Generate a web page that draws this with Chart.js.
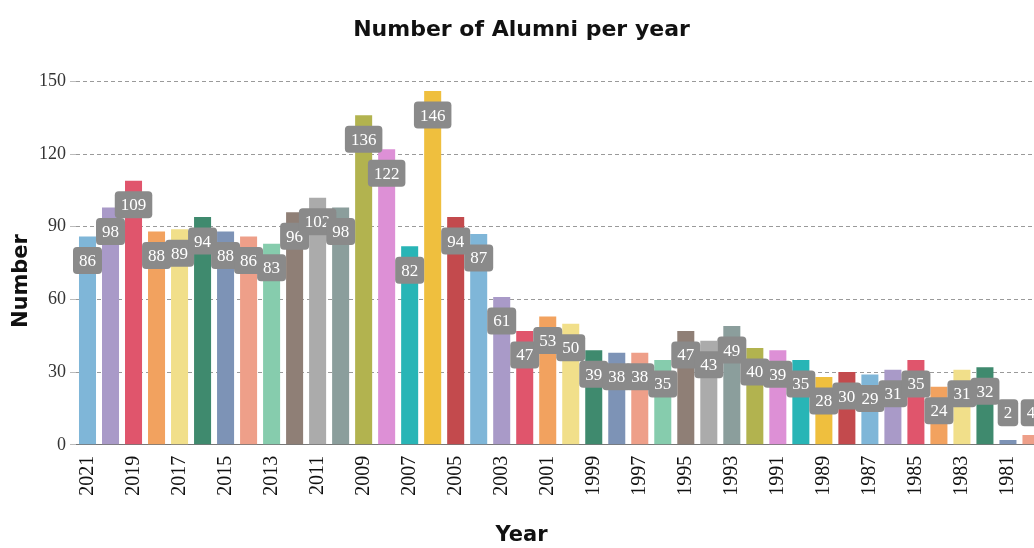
<!DOCTYPE html>
<html>
<head>
<meta charset="utf-8">
<script src="https://cdn.jsdelivr.net/npm/chart.js@4"></script>
<style>
  html, body { margin: 0; padding: 0; background: #fff; overflow: hidden; }
  canvas { display: block; }
</style>
</head>
<body>
<canvas id="bar-chart" width="1046" height="548"></canvas>
<script>
const years = [2021, 2020, 2019, 2018, 2017, 2016, 2015, 2014, 2013, 2012, 2011, 2010, 2009, 2008,
  2007, 2006, 2005, 2004, 2003, 2002, 2001, 2000, 1999, 1998, 1997, 1996, 1995, 1994, 1993, 1992,
  1991, 1990, 1989, 1988, 1987, 1986, 1985, 1984, 1983, 1982, 1981, 1980]
const alumni = [86, 98, 109, 88, 89, 94, 88, 86, 83, 96, 102, 98, 136, 122,
  82, 146, 94, 87, 61, 47, 53, 50, 39, 38, 38, 35, 47, 43, 49, 40,
  39, 35, 28, 30, 29, 31, 35, 24, 31, 32, 2, 4]
const palette = ['#7fb6d8', '#a99ac8', '#e0556c', '#f2a25f', '#f1df8a', '#3f8a6e', '#7d93b6',
  '#ee9f89', '#86ccad', '#8f7f76', '#ababab', '#8b9e9c', '#b2b34f', '#dd90d6', '#28b5b6',
  '#efbf3e', '#c34a4d']
const yTicks = [0, 30, 60, 90, 120, 150]

// value boxes on the bars
const valueBoxes = {
  id: 'valueBoxes',
  afterDatasetsDraw(chart) {
    const { ctx, chartArea } = chart
    const meta = chart.getDatasetMeta(0)
    ctx.save()
    ctx.font = '17px "Liberation Serif"'
    ctx.textAlign = 'center'
    ctx.textBaseline = 'middle'
    meta.data.forEach((bar, i) => {
      const txt = String(alumni[i])
      const w = ctx.measureText(txt).width + 12
      const h = 27
      const cy = Math.min(bar.y + 24, chartArea.bottom - 32)
      ctx.fillStyle = '#8a8a8a'
      ctx.beginPath()
      ctx.roundRect(bar.x - w / 2, cy - h / 2, w, h, 4)
      ctx.fill()
      ctx.fillStyle = '#fff'
      ctx.fillText(txt, bar.x, cy + 1)
    })
    ctx.restore()
  }
}

// y axis title, sits a bit below the middle like the original
const yTitle = {
  id: 'yTitle',
  afterDraw(chart) {
    const { ctx, chartArea } = chart
    ctx.save()
    ctx.translate(22, (chartArea.top + chartArea.bottom) / 2 + 18)
    ctx.rotate(-Math.PI / 2)
    ctx.font = 'bold 21px "DejaVu Sans"'
    ctx.fillStyle = '#111'
    ctx.textAlign = 'center'
    ctx.textBaseline = 'middle'
    ctx.fillText('Number', 0, 0)
    ctx.restore()
  }
}

new Chart(document.getElementById('bar-chart'), {
  type: 'bar',
  data: {
    labels: years,
    datasets: [{
      label: 'Alumni',
      data: alumni,
      backgroundColor: years.map((y, i) => palette[i % palette.length]),
      categoryPercentage: 1,
      barPercentage: 0.74
    }]
  },
  options: {
    responsive: false,
    animation: false,
    layout: { padding: { left: 0, right: 3, top: 0, bottom: 0 } },
    scales: {
      x: {
        grid: { display: false },
        border: { color: '#777' },
        ticks: {
          autoSkip: false,
          maxRotation: 90,
          minRotation: 90,
          color: '#111',
          font: { family: 'Liberation Serif', size: 20, lineHeight: 0.6 },
          callback: (v, i) => i % 2 === 0 ? years[i] : ''
        }
      },
      y: {
        min: 0,
        max: 150,
        afterBuildTicks: axis => { axis.ticks = yTicks.map(v => ({ value: v })) },
        afterFit: axis => { axis.width += 35 },
        border: { display: false, dash: [4, 3] },
        grid: { color: '#9a9a9a', tickLength: 6, tickColor: '#bbb' },
        ticks: { color: '#333', padding: 4, font: { family: 'Liberation Serif', size: 18 } }
      }
    },
    plugins: {
      legend: { display: false },
      tooltip: { enabled: false },
      title: {
        display: true,
        text: 'Number of Alumni per year',
        color: '#111',
        padding: { top: 17, bottom: 38 },
        font: { family: 'DejaVu Sans', size: 22, weight: 'bold' }
      },
      subtitle: {
        display: true,
        position: 'bottom',
        text: 'Year',
        color: '#111',
        padding: { top: 24, bottom: 0 },
        font: { family: 'DejaVu Sans', size: 21, weight: 'bold' }
      }
    }
  },
  plugins: [valueBoxes, yTitle]
})
</script>
</body>
</html>
